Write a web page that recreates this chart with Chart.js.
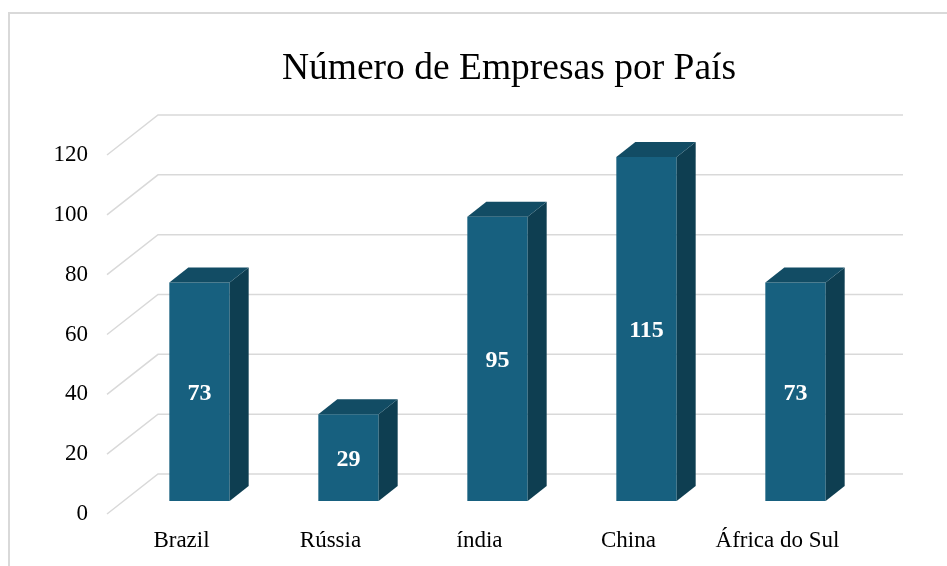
<!DOCTYPE html>
<html>
<head>
<meta charset="utf-8">
<script src="https://cdn.jsdelivr.net/npm/chart.js@4/dist/chart.umd.min.js"></script>
<style>
  html, body { margin: 0; padding: 0; background: #fff; }
  canvas { display: block; }
</style>
</head>
<body>
<canvas id="chart" width="947" height="566"></canvas>
<script>
var chartTitle = 'Número de Empresas por País';
var countries = ['Brazil', 'Rússia', 'índia', 'China', 'África do Sul'];
var companies = [73, 29, 95, 115, 73];
var yTicks = [0, 20, 40, 60, 80, 100, 120];

// depth of the 3d box: back wall offset, and bar plane / bar depth
var wall = { dx: 51, dy: -40 };
var barShift = { dx: 18, dy: -13 };
var barDepth = { dx: 19, dy: -15 };

var serif = '"Liberation Serif", "Times New Roman", serif';

var box3d = {
  id: 'box3d',
  beforeDraw: function(chart) {
    var ctx = chart.ctx;
    ctx.save();
    ctx.strokeStyle = '#d9d9d9';
    ctx.lineWidth = 2;
    ctx.beginPath();
    ctx.moveTo(9, chart.height);
    ctx.lineTo(9, 13);
    ctx.lineTo(chart.width, 13);
    ctx.stroke();

    ctx.fillStyle = '#000';
    ctx.font = '37.5px ' + serif;
    ctx.textAlign = 'center';
    ctx.textBaseline = 'middle';
    var a = chart.chartArea;
    ctx.fillText(chartTitle, (a.left + a.right + wall.dx) / 2 + 4, 69);
    ctx.restore();
  },
  beforeDatasetsDraw: function(chart) {
    var ctx = chart.ctx, a = chart.chartArea, y = chart.scales.y;
    ctx.save();
    ctx.strokeStyle = '#d9d9d9';
    ctx.lineWidth = 1.5;
    yTicks.forEach(function(v) {
      var py = y.getPixelForValue(v);
      ctx.beginPath();
      ctx.moveTo(a.left, py);
      ctx.lineTo(a.left + wall.dx, py + wall.dy);
      ctx.lineTo(a.right + wall.dx, py + wall.dy);
      ctx.stroke();
    });
    ctx.restore();
    ctx.save();
    ctx.translate(barShift.dx, barShift.dy);
  },
  afterDatasetsDraw: function(chart) {
    var ctx = chart.ctx;
    ctx.restore();
    var meta = chart.getDatasetMeta(0);
    ctx.save();
    meta.data.forEach(function(bar, i) {
      var l = bar.x - bar.width / 2 + barShift.dx;
      var r = bar.x + bar.width / 2 + barShift.dx;
      var t = bar.y + barShift.dy;
      var b = bar.base + barShift.dy;
      // side
      ctx.fillStyle = '#0e3e51';
      ctx.beginPath();
      ctx.moveTo(r, t);
      ctx.lineTo(r + barDepth.dx, t + barDepth.dy);
      ctx.lineTo(r + barDepth.dx, b + barDepth.dy);
      ctx.lineTo(r, b);
      ctx.closePath();
      ctx.fill();
      // top
      ctx.fillStyle = '#124c64';
      ctx.beginPath();
      ctx.moveTo(l, t);
      ctx.lineTo(l + barDepth.dx, t + barDepth.dy);
      ctx.lineTo(r + barDepth.dx, t + barDepth.dy);
      ctx.lineTo(r, t);
      ctx.closePath();
      ctx.fill();
      // value
      ctx.fillStyle = '#fff';
      ctx.font = 'bold 24px ' + serif;
      ctx.textAlign = 'center';
      ctx.textBaseline = 'middle';
      ctx.fillText(String(companies[i]), (l + r) / 2, (t + b) / 2 + 2);
    });
    ctx.restore();
  }
};

new Chart(document.getElementById('chart'), {
  type: 'bar',
  data: {
    labels: countries,
    datasets: [{
      data: companies,
      backgroundColor: '#17607f',
      borderWidth: 0,
      barPercentage: 0.405,
      categoryPercentage: 1,
      clip: false
    }]
  },
  options: {
    responsive: false,
    animation: false,
    layout: { padding: { top: 155, right: 95, left: 0, bottom: 0 } },
    plugins: {
      legend: { display: false },
      title: { display: false },
      tooltip: { enabled: false }
    },
    scales: {
      x: {
        grid: { display: false, drawTicks: false },
        border: { display: false },
        ticks: { color: '#000', font: { family: serif, size: 23 }, padding: 13, maxRotation: 0 },
        afterFit: function(scale) { scale.height = 52; }
      },
      y: {
        min: 0,
        max: 120,
        grid: { display: false, drawTicks: false },
        border: { display: false },
        ticks: { stepSize: 20, color: '#000', font: { family: serif, size: 23 }, padding: 19 },
        afterFit: function(scale) { scale.width = 107; }
      }
    }
  },
  plugins: [box3d]
});
</script>
</body>
</html>
